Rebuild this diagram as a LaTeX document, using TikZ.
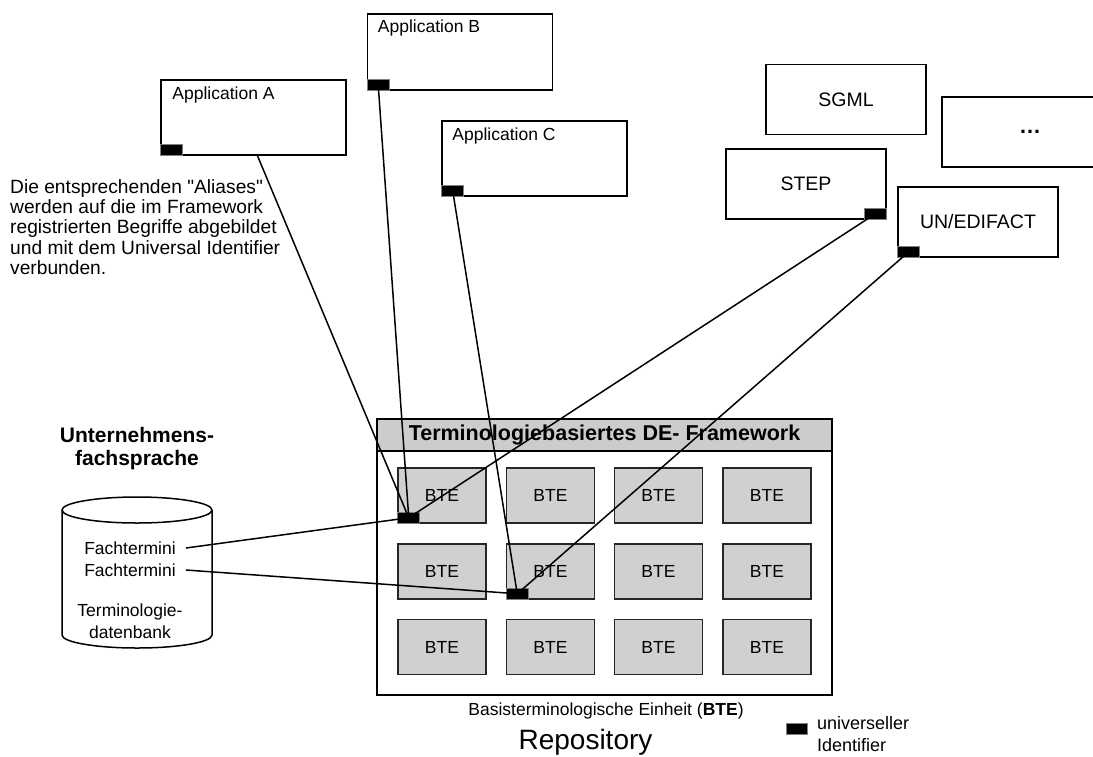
\documentclass[tikz,border=0pt]{standalone}
\usepackage{fontspec}
\setmainfont{Liberation Sans}
\usetikzlibrary{positioning}

\definecolor{btegray}{RGB}{208,208,208}
\definecolor{hdgray}{RGB}{204,204,204}

\begin{document}
\begin{tikzpicture}[
                x=1pt, y=-1pt,
                every node/.style={inner sep=0pt},
                box/.style={draw, line width=1.6pt, fill=white, rectangle},
                appbox/.style={box, minimum width=185pt, minimum height=75pt},
                fmtbox/.style={box, minimum width=160pt, minimum height=70pt, font=\fontsize{19.5}{22}\selectfont},
                txt/.style={font=\fontsize{17.5}{20.5}\selectfont},
                term/.style={txt, inner xsep=10pt},
                uid/.style={draw=gray, fill=black, line width=1pt, minimum width=22pt, minimum height=11pt},
                bte/.style={draw=black!85, fill=btegray, line width=1.5pt, minimum width=88pt, minimum height=55pt, txt},
                link/.style={line width=1.5pt}
            ]

            \clip (0,0) rectangle (1093,756);

            % applications
            \node[appbox] (appA) at (253.5,117.5) {};
            \node[appbox, minimum height=76pt] (appB) at (460,52) {};
            \node[appbox] (appC) at (534.5,158.5) {};
            \node[txt, anchor=west] (appAtext) at ([xshift=12pt,yshift=-16pt]appA.north west) {Application A};
            \node[txt, anchor=west] (appBtext) at ([xshift=11pt,yshift=-15pt]appB.north west) {Application B};
            \node[txt, anchor=west] (appCtext) at ([xshift=11pt,yshift=-16pt]appC.north west) {Application C};
            \node[uid, anchor=south west] (idA) at (appA.south west) {};
            \node[uid, anchor=south west] (idB) at (appB.south west) {};
            \node[uid, anchor=south west] (idC) at (appC.south west) {};

            % formats
            \node[fmtbox] (sgml) at (846,99.5) {SGML};
            \node[fmtbox, minimum width=176pt, font=\bfseries\fontsize{22}{24}\selectfont] (more) at (1030,132) {…};
            \node[fmtbox] (step) at (806,184) {STEP};
            \node[fmtbox] (edi) at (978,222) {UN/EDIFACT};
            \node[uid, anchor=south east] (idStep) at (step.south east) {};
            \node[uid, anchor=south west] (idEdi) at (edi.south west) {};

            \node[font=\fontsize{19.2}{20.4}\selectfont, align=left, anchor=north west] (note) at (10,179)
                {Die entsprechenden \textquotedbl Aliases\textquotedbl\\werden auf die im Framework\\registrierten Begriffe abgebildet\\und mit dem Universal Identifier\\verbunden.};

            % terminology database
            \node[font=\bfseries\fontsize{21}{23.5}\selectfont, align=center] (vocab) at (137,448.5) {Unternehmens-\\fachsprache};
            \draw[line width=1.5pt] (62,510) -- (62,635) arc[start angle=180, end angle=360, x radius=75pt, y radius=13pt] -- (212,510);
            \draw[line width=1.5pt] (137,510) ellipse[x radius=75pt, y radius=13pt];
            \node[term] (term1) at (130,548) {Fachtermini};
            \node[term] (term2) at (130,570) {Fachtermini};
            \node[txt, align=center, font=\fontsize{17.5}{22}\selectfont] (dbname) at (130,621) {Terminologie-\\datenbank};

            % framework
            \node[box, minimum width=455pt, minimum height=276pt] (frame) at (604.5,557) {};
            \node[draw, line width=1.6pt, fill=hdgray, minimum width=455pt, minimum height=32pt, anchor=north,
                  font=\bfseries\fontsize{21.5}{24}\selectfont] (framehead) at (frame.north) {Terminologiebasiertes DE- Framework};

            \node[bte] (b11) at (442,495.5) {BTE};
            \node[bte] (b12) at (550.5,495.5) {BTE};
            \node[bte] (b13) at (658.5,495.5) {BTE};
            \node[bte] (b14) at (767,495.5) {BTE};
            \node[bte] (b21) at (442,571.5) {BTE};
            \node[bte] (b22) at (550.5,571.5) {BTE};
            \node[bte] (b23) at (658.5,571.5) {BTE};
            \node[bte] (b24) at (767,571.5) {BTE};
            \node[bte] (b31) at (442,647) {BTE};
            \node[bte] (b32) at (550.5,647) {BTE};
            \node[bte] (b33) at (658.5,647) {BTE};
            \node[bte] (b34) at (767,647) {BTE};
            \node[uid, anchor=south west] (idB11) at (b11.south west) {};
            \node[uid, anchor=south west] (idB22) at (b22.south west) {};

            \node[txt] (caption) at (606,711) {Basisterminologische Einheit (\textbf{BTE})};
            \node[font=\fontsize{28}{32}\selectfont] (repo) at (585.5,742) {Repository};

            % legend
            \node[uid, minimum width=21pt] (legendid) at (796.5,728.5) {};
            \node[font=\fontsize{18}{22}\selectfont, align=left, anchor=north west] (legendtext) at (817,716) {universeller\\Identifier};

            % connectors
            \draw[link] ([xshift=4pt]appA.south) -- (idB11.center);
            \draw[link] (idB.center) -- (idB11.center);
            \draw[link] (idStep.center) -- (idB11.center);
            \draw[link] (term1.east) -- (idB11.center);
            \draw[link] (idC.center) -- (idB22.center);
            \draw[link] (idEdi.center) -- (idB22.center);
            \draw[link] (term2.east) -- (idB22.center);

        \end{tikzpicture}
\end{document}
